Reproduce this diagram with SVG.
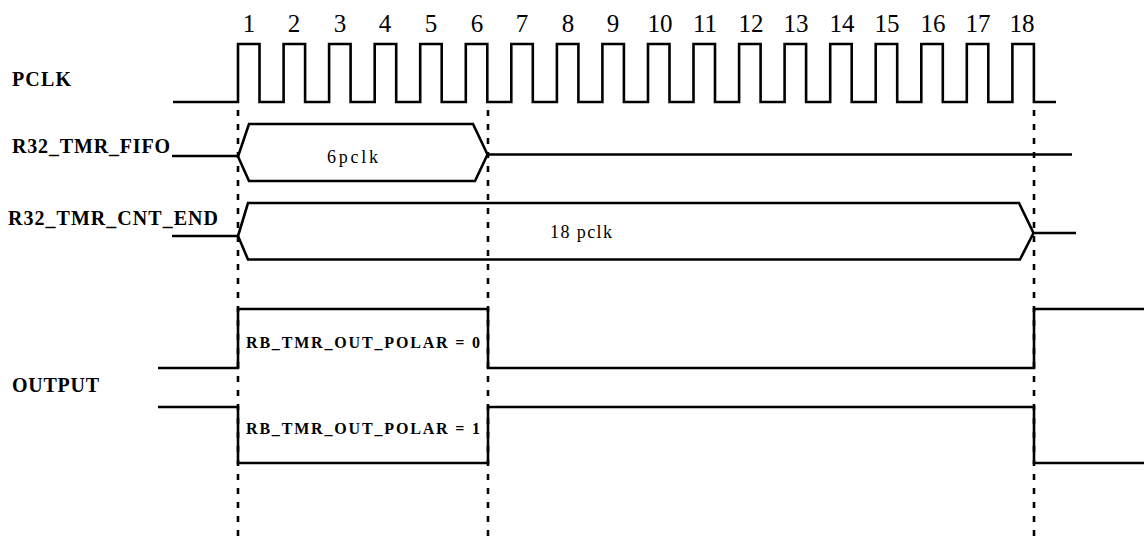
<svg xmlns="http://www.w3.org/2000/svg" width="1144" height="540" viewBox="0 0 1144 540">
<style>
.w{fill:none;stroke:#000;stroke-width:2.6;stroke-linejoin:miter}
.d{fill:none;stroke:#000;stroke-width:2.6;stroke-dasharray:6 8}
.lbl{font-family:"Liberation Serif","Times New Roman",serif;font-weight:bold;font-size:20px;fill:#000}
.num{font-family:"Liberation Serif","Times New Roman",serif;font-size:25px;fill:#000;text-anchor:middle}
.bus{font-family:"Liberation Serif","Times New Roman",serif;font-size:18px;fill:#000}
.pol{font-family:"Liberation Serif","Times New Roman",serif;font-weight:bold;font-size:16px;fill:#000}
</style>
<rect width="1144" height="540" fill="#fff"/>
<g id="guides">
<line class="d" x1="238" y1="110" x2="238" y2="540"/>
<line class="d" x1="488" y1="110" x2="488" y2="540"/>
<line class="d" x1="1034" y1="110" x2="1034" y2="540"/>
</g>
<g id="pclk">
<text class="lbl" x="12" y="86" textLength="59" lengthAdjust="spacing">PCLK</text>
<path class="w" d="M173,102 H238 V44 H259.5 V102 H283.6 V44 H305.1 V102 H329.1 V44 H350.6 V102 H374.7 V44 H396.2 V102 H420.2 V44 H441.7 V102 H465.8 V44 H487.3 V102 H511.3 V44 H532.8 V102 H556.9 V44 H578.4 V102 H602.4 V44 H623.9 V102 H648 V44 H669.5 V102 H693.5 V44 H715 V102 H739.1 V44 H760.6 V102 H784.6 V44 H806.1 V102 H830.2 V44 H851.7 V102 H875.7 V44 H897.2 V102 H921.3 V44 H942.8 V102 H966.8 V44 H988.3 V102 H1012.4 V44 H1033.9 V102 H1056"/>
<g id="cycle-numbers">
<text class="num" x="249" y="32">1</text>
<text class="num" x="294" y="32">2</text>
<text class="num" x="340" y="32">3</text>
<text class="num" x="385" y="32">4</text>
<text class="num" x="431" y="32">5</text>
<text class="num" x="477" y="32">6</text>
<text class="num" x="522" y="32">7</text>
<text class="num" x="568" y="32">8</text>
<text class="num" x="613" y="32">9</text>
<text class="num" x="660" y="32">10</text>
<text class="num" x="705" y="32">11</text>
<text class="num" x="751" y="32">12</text>
<text class="num" x="796" y="32">13</text>
<text class="num" x="842" y="32">14</text>
<text class="num" x="887" y="32">15</text>
<text class="num" x="933" y="32">16</text>
<text class="num" x="978" y="32">17</text>
<text class="num" x="1022" y="32">18</text>
</g>
</g>
<g id="fifo">
<text class="lbl" x="12" y="153" textLength="158" lengthAdjust="spacing">R32_TMR_FIFO</text>
<path class="w" d="M172,156 H238"/>
<path class="w" d="M238,156.5 L249,124 H473 L487.5,154.5 L475,181 H249 Z"/>
<path class="w" d="M487.5,154.5 H1072"/>
<text class="bus" x="327" y="163" textLength="51" lengthAdjust="spacing">6pclk</text>
</g>
<g id="cnt-end">
<text class="lbl" x="8" y="225" textLength="210" lengthAdjust="spacing">R32_TMR_CNT_END</text>
<path class="w" d="M172,236 H238"/>
<path class="w" d="M238,236 L248,203 H1019 L1033.5,233 L1020,259.5 H248 Z"/>
<path class="w" d="M1033.5,233 H1076"/>
<text class="bus" x="550" y="238" textLength="62" lengthAdjust="spacing">18 pclk</text>
</g>
<g id="output">
<text class="lbl" x="12" y="392" textLength="87" lengthAdjust="spacing">OUTPUT</text>
<path class="w" d="M158,368 H238 V309 H488 V368 H1034 V309 H1144"/>
<text class="pol" x="246" y="348" textLength="234" lengthAdjust="spacing">RB_TMR_OUT_POLAR = 0</text>
<path class="w" d="M158,407 H238 V463 H488 V407 H1034 V463 H1144"/>
<text class="pol" x="246" y="434" textLength="234" lengthAdjust="spacing">RB_TMR_OUT_POLAR = 1</text>
</g>
</svg>
